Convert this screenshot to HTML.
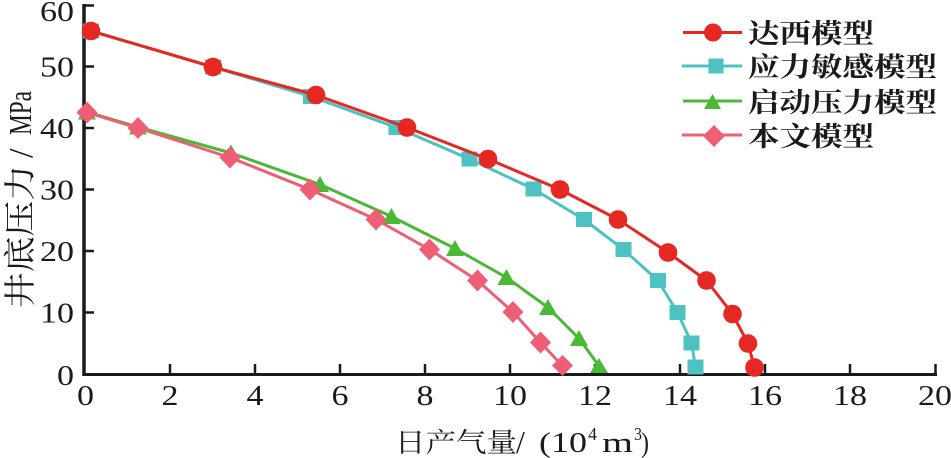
<!DOCTYPE html>
<html>
<head>
<meta charset="utf-8">
<style>
html,body{margin:0;padding:0;background:#fff;}
svg{display:block;}
.num{font-family:"Liberation Serif","DejaVu Serif",serif;font-size:29px;fill:#1a1a1a;}
.cjk{font-family:"Liberation Serif","Noto Serif CJK SC","Noto Sans CJK SC",serif;fill:#1a1a1a;}
</style>
</head>
<body>
<svg width="951" height="458" viewBox="0 0 951 458" xmlns="http://www.w3.org/2000/svg">
<rect width="951" height="458" fill="#fff"/>

<!-- axes -->
<g stroke="#1a1a1a" fill="none">
  <line x1="84" y1="4" x2="84" y2="376" stroke-width="3.5"/>
  <line x1="82.5" y1="374.5" x2="937" y2="374.5" stroke-width="3"/>
  <g stroke-width="2.5">
    <line x1="84" y1="312.5" x2="94" y2="312.5"/>
    <line x1="84" y1="251" x2="94" y2="251"/>
    <line x1="84" y1="189.5" x2="94" y2="189.5"/>
    <line x1="84" y1="128" x2="94" y2="128"/>
    <line x1="84" y1="66.5" x2="94" y2="66.5"/>
    <line x1="84" y1="5.5" x2="94" y2="5.5"/>
  </g>
  <g stroke-width="2.5">
    <line x1="170" y1="364" x2="170" y2="374"/>
    <line x1="255" y1="364" x2="255" y2="374"/>
    <line x1="340" y1="364" x2="340" y2="374"/>
    <line x1="425" y1="364" x2="425" y2="374"/>
    <line x1="510" y1="364" x2="510" y2="374"/>
    <line x1="595" y1="364" x2="595" y2="374"/>
    <line x1="680" y1="364" x2="680" y2="374"/>
    <line x1="765" y1="364" x2="765" y2="374"/>
    <line x1="850" y1="364" x2="850" y2="374"/>
    <line x1="935.5" y1="364" x2="935.5" y2="374"/>
  </g>
</g>

<!-- y tick labels -->
<g class="num">
  <text x="57" y="385" textLength="17" lengthAdjust="spacingAndGlyphs">0</text>
  <text x="40" y="322.5" textLength="34" lengthAdjust="spacingAndGlyphs">10</text>
  <text x="40" y="261" textLength="34" lengthAdjust="spacingAndGlyphs">20</text>
  <text x="40" y="199.5" textLength="34" lengthAdjust="spacingAndGlyphs">30</text>
  <text x="40" y="138" textLength="34" lengthAdjust="spacingAndGlyphs">40</text>
  <text x="40" y="76.5" textLength="34" lengthAdjust="spacingAndGlyphs">50</text>
  <text x="40" y="21" textLength="34" lengthAdjust="spacingAndGlyphs">60</text>
</g>

<!-- x tick labels -->
<g class="num">
  <text x="77" y="405" textLength="17" lengthAdjust="spacingAndGlyphs">0</text>
  <text x="161.5" y="405" textLength="17" lengthAdjust="spacingAndGlyphs">2</text>
  <text x="246.5" y="405" textLength="17" lengthAdjust="spacingAndGlyphs">4</text>
  <text x="331.5" y="405" textLength="17" lengthAdjust="spacingAndGlyphs">6</text>
  <text x="416.5" y="405" textLength="17" lengthAdjust="spacingAndGlyphs">8</text>
  <text x="493" y="405" textLength="34" lengthAdjust="spacingAndGlyphs">10</text>
  <text x="578" y="405" textLength="34" lengthAdjust="spacingAndGlyphs">12</text>
  <text x="663" y="405" textLength="34" lengthAdjust="spacingAndGlyphs">14</text>
  <text x="748" y="405" textLength="34" lengthAdjust="spacingAndGlyphs">16</text>
  <text x="833" y="405" textLength="34" lengthAdjust="spacingAndGlyphs">18</text>
  <text x="918" y="405" textLength="34" lengthAdjust="spacingAndGlyphs">20</text>
</g>

<!-- x axis title -->
<text class="cjk" x="395" y="452" font-size="27" textLength="122" lengthAdjust="spacingAndGlyphs">日产气量</text>
<text class="num" x="516" y="453" style="font-size:32px">/</text>
<text class="num" x="539" y="452" textLength="48" lengthAdjust="spacingAndGlyphs">(10</text>
<text class="num" x="588" y="440" style="font-size:18px" textLength="9" lengthAdjust="spacingAndGlyphs">4</text>
<text class="num" x="602" y="452" textLength="31" lengthAdjust="spacingAndGlyphs">m</text>
<text class="num" x="634" y="440" style="font-size:18px" textLength="8" lengthAdjust="spacingAndGlyphs">3</text>
<text class="num" x="641" y="452" textLength="8" lengthAdjust="spacingAndGlyphs">)</text>

<!-- y axis title -->
<g transform="translate(31,308) rotate(-90)">
  <text class="cjk" x="0" y="0" font-size="32" textLength="143" lengthAdjust="spacingAndGlyphs">井底压力</text>
  <text class="num" x="150" y="1" style="font-size:34px">/</text>
  <text class="num" x="173" y="0" style="font-size:32px" textLength="44" lengthAdjust="spacingAndGlyphs">MPa</text>
</g>

<!-- cyan series -->
<polyline fill="none" stroke="#4dc2c1" stroke-width="3" stroke-linejoin="round"
  points="91,31 213,67 311,96.5 396.5,127.5 469.5,159 533.5,189 584,219.5 623.5,249.5 658,280.5 677.5,312.5 691.5,343 695.5,367"/>
<g fill="#4dc2c1">
  <rect x="83" y="23.5" width="16" height="15"/>
  <rect x="205" y="59.5" width="16" height="15"/>
  <rect x="303" y="89" width="16" height="15"/>
  <rect x="388.5" y="120" width="16" height="15"/>
  <rect x="461.5" y="151.5" width="16" height="15"/>
  <rect x="525.5" y="181.5" width="16" height="15"/>
  <rect x="576" y="212" width="16" height="15"/>
  <rect x="615.5" y="242" width="16" height="15"/>
  <rect x="650" y="273" width="16" height="15"/>
  <rect x="669.5" y="305" width="16" height="15"/>
  <rect x="683.5" y="335.5" width="16" height="15"/>
  <rect x="687.5" y="359.5" width="16" height="15"/>
</g>

<!-- red series -->
<polyline fill="none" stroke="#e52822" stroke-width="3" stroke-linejoin="round"
  points="91,31 213,67 316,95 407,127.5 488,159 560,189.5 618,219.5 668,252.5 706.5,280.5 732.5,314 748,343.5 754.5,367.5"/>
<g fill="#e52822">
  <circle cx="91" cy="31" r="9.3"/>
  <circle cx="213" cy="67" r="9.3"/>
  <circle cx="316" cy="95" r="9.3"/>
  <circle cx="407" cy="127.5" r="9.3"/>
  <circle cx="488" cy="159" r="9.3"/>
  <circle cx="560" cy="189.5" r="9.3"/>
  <circle cx="618" cy="219.5" r="9.3"/>
  <circle cx="668" cy="252.5" r="9.3"/>
  <circle cx="706.5" cy="280.5" r="9.3"/>
  <circle cx="732.5" cy="314" r="9.3"/>
  <circle cx="748" cy="343.5" r="9.3"/>
  <circle cx="754.5" cy="367.5" r="9.3"/>
</g>

<!-- green series -->
<polyline fill="none" stroke="#4ab935" stroke-width="3" stroke-linejoin="round"
  points="87,112 138,127 231,153 320,184.5 391.5,216.5 455,248.5 506.5,277.5 548,307.5 579,338.5 599,366"/>
<g fill="#4ab935">
  <polygon points="78,119.5 96,119.5 87,103.5"/>
  <polygon points="129,134.5 147,134.5 138,118.5"/>
  <polygon points="222,160.5 240,160.5 231,144.5"/>
  <polygon points="311,192 329,192 320,176"/>
  <polygon points="382.5,224 400.5,224 391.5,208"/>
  <polygon points="446,256 464,256 455,240"/>
  <polygon points="497.5,285 515.5,285 506.5,269"/>
  <polygon points="539,315 557,315 548,299"/>
  <polygon points="570,346 588,346 579,330"/>
  <polygon points="590,373 608,373 599,358"/>
</g>

<!-- pink series -->
<polyline fill="none" stroke="#ee5e74" stroke-width="3" stroke-linejoin="round"
  points="87,112.5 138,128 230,157.5 310,189.5 376,219.5 429.5,249.5 477.5,280.5 513,312 540.5,342.5 562.5,366"/>
<g fill="#ee5e74">
  <polygon points="87,101.5 97.5,112.5 87,123.5 76.5,112.5"/>
  <polygon points="138,117 148.5,128 138,139 127.5,128"/>
  <polygon points="230,146.5 240.5,157.5 230,168.5 219.5,157.5"/>
  <polygon points="310,178.5 320.5,189.5 310,200.5 299.5,189.5"/>
  <polygon points="376,208.5 386.5,219.5 376,230.5 365.5,219.5"/>
  <polygon points="429.5,238.5 440,249.5 429.5,260.5 419,249.5"/>
  <polygon points="477.5,269.5 488,280.5 477.5,291.5 467,280.5"/>
  <polygon points="513,301 523.5,312 513,323 502.5,312"/>
  <polygon points="540.5,331.5 551,342.5 540.5,353.5 530,342.5"/>
  <polygon points="562.5,355 573,365.5 562.5,376 552,365.5"/>
</g>

<!-- legend -->
<g>
  <line x1="683" y1="32.5" x2="742" y2="32.5" stroke="#e52822" stroke-width="3"/>
  <circle cx="713" cy="32.5" r="9" fill="#e52822"/>
  <line x1="682" y1="66" x2="742" y2="66" stroke="#4dc2c1" stroke-width="3"/>
  <rect x="708.5" y="58.5" width="15" height="15" fill="#4dc2c1"/>
  <line x1="683" y1="101" x2="742" y2="101" stroke="#4ab935" stroke-width="3"/>
  <polygon points="704,109 721,109 712.5,94" fill="#4ab935"/>
  <line x1="682" y1="135" x2="742" y2="135" stroke="#ee5e74" stroke-width="3"/>
  <polygon points="714,125 725,136 714,147 703,136" fill="#ee5e74"/>
</g>
<g class="cjk" font-size="27" font-weight="700">
  <text x="748" y="43" textLength="126" lengthAdjust="spacingAndGlyphs">达西模型</text>
  <text x="748" y="76.5" textLength="189" lengthAdjust="spacingAndGlyphs">应力敏感模型</text>
  <text x="748" y="112" textLength="189" lengthAdjust="spacingAndGlyphs">启动压力模型</text>
  <text x="748" y="146" textLength="126" lengthAdjust="spacingAndGlyphs">本文模型</text>
</g>
</svg>
</body>
</html>
